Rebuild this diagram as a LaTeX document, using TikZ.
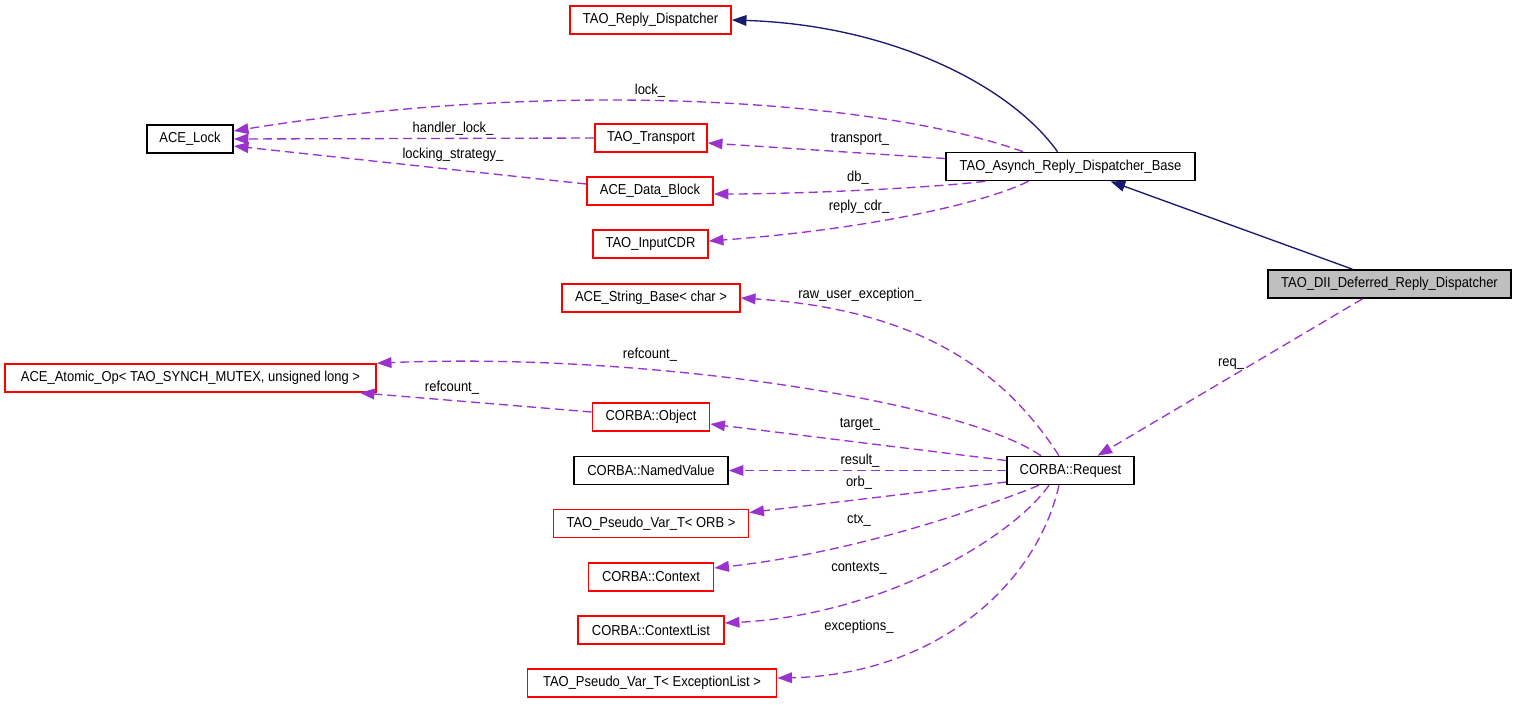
\documentclass[tikz,border=0pt]{standalone}
\usepackage{fontspec}
\setmainfont{Liberation Sans}[FakeStretch=0.9]
\usetikzlibrary{arrows.meta,calc}
\definecolor{depc}{HTML}{9A32CD}
\definecolor{inhc}{HTML}{191970}
\definecolor{grayfill}{HTML}{BFBFBF}
\begin{document}
\begin{tikzpicture}[x=0.75pt,y=-0.75pt,
  font=\fontsize{10.8}{12}\selectfont,
  cls/.style={draw=black, line width=1.2pt, minimum height=21pt, inner sep=0pt, fill=white, minimum width=#1*0.75pt},
  redcls/.style={cls=#1, draw=red},
  dep/.style={draw=depc, dash pattern=on 6.75pt off 3.75pt, line width=1pt, -{Triangle[length=11pt,width=8pt,fill=depc]}},
  inh/.style={draw=inhc, line width=1pt, -{Triangle[length=11pt,width=8pt,fill=inhc]}},
  lbl/.style={inner sep=0pt}]
\useasboundingbox (0,0) rectangle (1517,704);

% nodes
\node[redcls=161] (rd)   at (650.5,20)    {TAO\_Reply\_Dispatcher};
\node[cls=86]     (lock) at (190,139)     {ACE\_Lock};
\node[redcls=112] (tr)   at (651,138)     {TAO\_Transport};
\node[redcls=126] (db)   at (650,191)     {ACE\_Data\_Block};
\node[redcls=115] (cdr)  at (650.5,244)   {TAO\_InputCDR};
\node[cls=249]    (base) at (1070.5,166.5){TAO\_Asynch\_Reply\_Dispatcher\_Base};
\node[cls=243, fill=grayfill] (dii) at (1389.5,284) {TAO\_DII\_Deferred\_Reply\_Dispatcher};
\node[redcls=178] (sb)   at (651,298)     {ACE\_String\_Base< char >};
\node[redcls=371] (atom) at (190.5,378)   {ACE\_Atomic\_Op< TAO\_SYNCH\_MUTEX, unsigned long >};
\node[redcls=117] (obj)  at (651,417)     {CORBA::Object};
\node[cls=154]    (nv)   at (651,470.5)   {CORBA::NamedValue};
\node[redcls=195] (orb)  at (651,523.5)   {TAO\_Pseudo\_Var\_T< ORB >};
\node[redcls=125] (ctx)  at (651,577)     {CORBA::Context};
\node[redcls=146] (ctxl) at (651,630)     {CORBA::ContextList};
\node[redcls=249] (exl)  at (652,683)     {TAO\_Pseudo\_Var\_T< ExceptionList >};
\node[cls=127]    (req)  at (1070.5,470.5){CORBA::Request};

% inheritance
\draw[inh] ($(base.north)+(-13,0)$) .. controls (1010,85) and (890,25) .. (rd.east);
\draw[inh] ($(dii.north)+(-37,0)$) -- ($(base.south)+(40,0)$);

% dependencies
\draw[dep] ($(dii.south)+(-27,0)$) -- ($(req.north)+(27,0)$);
\draw[dep] ($(base.north)+(-47.5,0)$) .. controls (880,100) and (560,78) .. ($(lock.east)+(0,-8)$);
\draw[dep] (tr.west) -- (lock.east);
\draw[dep] ($(db.west)+(0,-7)$) -- ($(lock.east)+(0,7)$);
\draw[dep] ($(base.west)+(0,-8)$) -- ($(tr.east)+(0,5)$);
\draw[dep] ($(base.south west)+(40,0)$) .. controls (930,188) and (800,194) .. ($(db.east)+(0,3)$);
\draw[dep] ($(base.south)+(-42,0)$) .. controls (980,205) and (860,230) .. ($(cdr.east)+(0,-3)$);
\draw[dep] ($(req.north)+(-11.5,0)$) .. controls (1010,380) and (930,310) .. (sb.east);
\draw[dep] ($(req.north)+(-29.5,0)$) .. controls (960,400) and (640,352) .. (atom.north east);
\draw[dep] ($(obj.west)+(0,-5)$) -- ($(atom.south east)+(-17,0)$);
\draw[dep] ($(req.west)+(0,-10)$) -- ($(obj.east)+(0,7)$);
\draw[dep] (req.west) -- (nv.east);
\draw[dep] ($(req.west)+(0,11.5)$) -- ($(orb.east)+(0,-11)$);
\draw[dep] ($(req.south)+(-31.5,0)$) .. controls (990,505) and (860,552) .. ($(ctx.east)+(0,-9)$);
\draw[dep] ($(req.south)+(-21.5,0)$) .. controls (1010,540) and (880,615) .. ($(ctxl.east)+(0,-7)$);
\draw[dep] ($(req.south)+(-11.5,0)$) .. controls (1035,590) and (930,675) .. ($(exl.east)+(0,-5)$);

% labels
\node[lbl] (l1)  at (650,91)   {lock\_};
\node[lbl] (l2)  at (453,129)  {handler\_lock\_};
\node[lbl] (l3)  at (453,155)  {locking\_strategy\_};
\node[lbl] (l4)  at (860,139)  {transport\_};
\node[lbl] (l5)  at (858,178)  {db\_};
\node[lbl] (l6)  at (859,207)  {reply\_cdr\_};
\node[lbl] (l7)  at (860,295)  {raw\_user\_exception\_};
\node[lbl] (l8)  at (650,355)  {refcount\_};
\node[lbl] (l9)  at (452,388)  {refcount\_};
\node[lbl] (l10) at (860,424)  {target\_};
\node[lbl] (l11) at (860,461)  {result\_};
\node[lbl] (l12) at (859,483)  {orb\_};
\node[lbl] (l13) at (859,520)  {ctx\_};
\node[lbl] (l14) at (859,568)  {contexts\_};
\node[lbl] (l15) at (859,627)  {exceptions\_};
\node[lbl] (l16) at (1231,364) {req\_};
\end{tikzpicture}
\end{document}
